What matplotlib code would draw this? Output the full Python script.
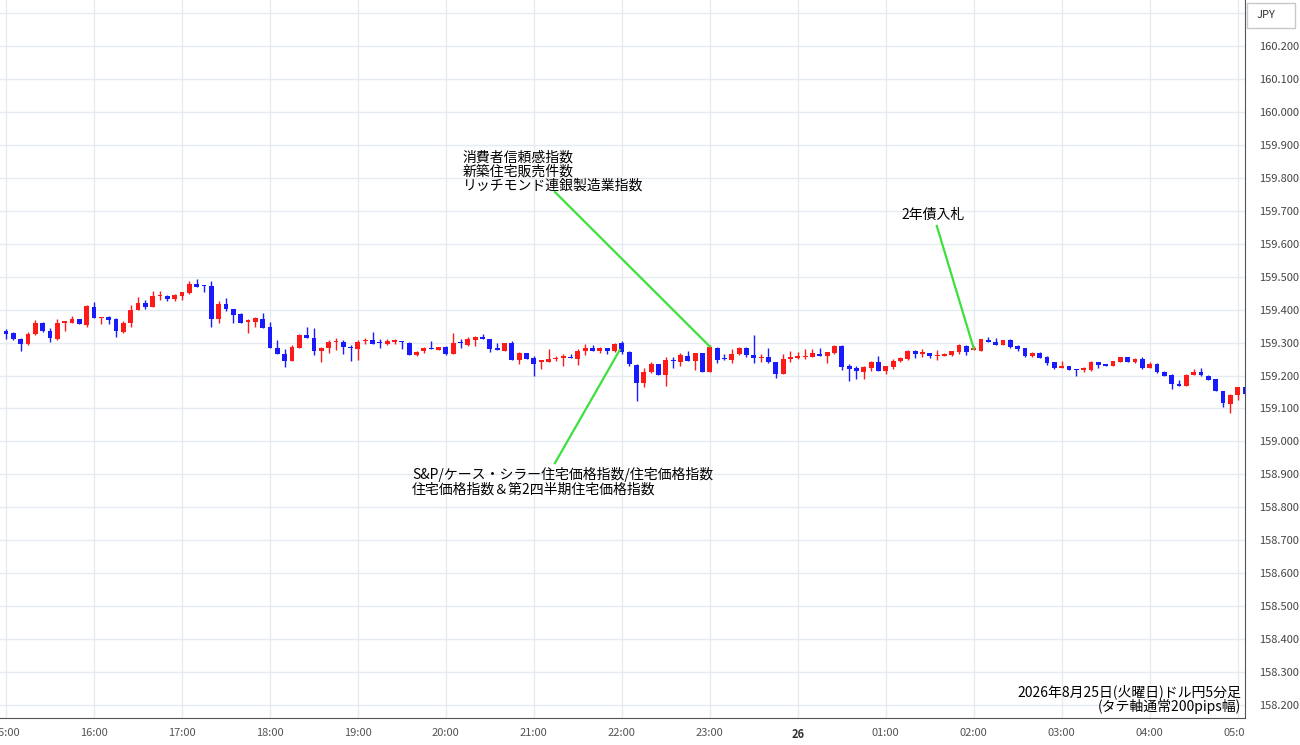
import numpy as np
import matplotlib
matplotlib.use('Agg')
import matplotlib.pyplot as plt
from matplotlib.patches import Rectangle
from matplotlib.transforms import Bbox, TransformedBbox

plt.rcParams['font.family'] = ['Noto Sans CJK JP', 'DejaVu Sans']

# ドル円 5分足 (15:00 から 05:05 まで)
opens = [159.335, 159.328, 159.310, 159.295, 159.325, 159.360, 159.335, 159.310, 159.360, 159.360,
         159.370, 159.352, 159.408, 159.374, 159.378, 159.370, 159.332, 159.360, 159.398, 159.420,
         159.408, 159.440, 159.440, 159.433, 159.442, 159.450, 159.478, 159.474, 159.472, 159.372,
         159.418, 159.403, 159.388, 159.362, 159.363, 159.373, 159.348, 159.285, 159.265, 159.245,
         159.285, 159.322, 159.315, 159.273, 159.283, 159.302, 159.303, 159.288, 159.280, 159.305,
         159.308, 159.300, 159.297, 159.303, 159.304, 159.300, 159.262, 159.273, 159.284, 159.278,
         159.287, 159.264, 159.300, 159.292, 159.307, 159.316, 159.312, 159.284, 159.275, 159.298,
         159.248, 159.267, 159.253, 159.242, 159.240, 159.250, 159.254, 159.257, 159.250, 159.273,
         159.283, 159.275, 159.283, 159.273, 159.298, 159.272, 159.233, 159.178, 159.210, 159.235,
         159.202, 159.248, 159.242, 159.260, 159.245, 159.267, 159.212, 159.285, 159.253, 159.247,
         159.265, 159.283, 159.263, 159.253, 159.255, 159.242, 159.205, 159.251, 159.252, 159.256,
         159.257, 159.266, 159.260, 159.267, 159.290, 159.228, 159.222, 159.212, 159.223, 159.240,
         159.213, 159.225, 159.243, 159.250, 159.273, 159.266, 159.267, 159.258, 159.258, 159.262,
         159.270, 159.290, 159.278, 159.275, 159.308, 159.302, 159.293, 159.308, 159.290, 159.282,
         159.260, 159.268, 159.255, 159.242, 159.222, 159.230, 159.220, 159.218, 159.217, 159.240,
         159.231, 159.228, 159.240, 159.255, 159.242, 159.250, 159.222, 159.235, 159.212, 159.203,
         159.175, 159.168, 159.202, 159.212, 159.198, 159.190, 159.153, 159.114, 159.140, 159.164]
highs = [159.340, 159.333, 159.313, 159.333, 159.367, 159.363, 159.345, 159.372, 159.363, 159.380,
         159.370, 159.415, 159.423, 159.378, 159.382, 159.375, 159.365, 159.415, 159.438, 159.430,
         159.455, 159.455, 159.445, 159.448, 159.452, 159.487, 159.492, 159.475, 159.488, 159.425,
         159.435, 159.403, 159.390, 159.370, 159.377, 159.390, 159.362, 159.308, 159.280, 159.292,
         159.325, 159.348, 159.345, 159.288, 159.307, 159.313, 159.308, 159.292, 159.308, 159.315,
         159.332, 159.310, 159.310, 159.310, 159.304, 159.302, 159.275, 159.287, 159.304, 159.288,
         159.290, 159.330, 159.310, 159.317, 159.320, 159.325, 159.312, 159.298, 159.300, 159.305,
         159.270, 159.268, 159.258, 159.245, 159.280, 159.258, 159.265, 159.265, 159.280, 159.295,
         159.293, 159.288, 159.285, 159.298, 159.305, 159.275, 159.235, 159.223, 159.240, 159.235,
         159.255, 159.255, 159.267, 159.275, 159.267, 159.267, 159.292, 159.288, 159.265, 159.280,
         159.288, 159.288, 159.322, 159.265, 159.283, 159.242, 159.265, 159.275, 159.272, 159.280,
         159.280, 159.285, 159.270, 159.292, 159.292, 159.235, 159.228, 159.228, 159.245, 159.260,
         159.230, 159.250, 159.255, 159.277, 159.277, 159.280, 159.267, 159.277, 159.268, 159.275,
         159.295, 159.292, 159.290, 159.312, 159.317, 159.315, 159.308, 159.312, 159.294, 159.282,
         159.270, 159.272, 159.258, 159.242, 159.245, 159.230, 159.220, 159.225, 159.243, 159.240,
         159.231, 159.245, 159.255, 159.255, 159.253, 159.255, 159.242, 159.237, 159.215, 159.205,
         159.185, 159.205, 159.220, 159.222, 159.201, 159.190, 159.153, 159.144, 159.166, 159.166]
lows = [159.312, 159.308, 159.275, 159.293, 159.323, 159.333, 159.303, 159.307, 159.335, 159.360,
        159.355, 159.348, 159.375, 159.355, 159.355, 159.318, 159.330, 159.347, 159.398, 159.402,
        159.408, 159.428, 159.425, 159.425, 159.428, 159.448, 159.470, 159.452, 159.348, 159.360,
        159.395, 159.360, 159.360, 159.330, 159.347, 159.345, 159.283, 159.265, 159.227, 159.243,
        159.282, 159.315, 159.262, 159.242, 159.267, 159.278, 159.265, 159.245, 159.248, 159.295,
        159.295, 159.282, 159.293, 159.295, 159.280, 159.262, 159.260, 159.268, 159.280, 159.277,
        159.262, 159.264, 159.283, 159.290, 159.290, 159.310, 159.272, 159.277, 159.273, 159.248,
        159.235, 159.250, 159.197, 159.220, 159.240, 159.243, 159.228, 159.252, 159.233, 159.262,
        159.275, 159.268, 159.265, 159.272, 159.265, 159.228, 159.122, 159.165, 159.208, 159.202,
        159.168, 159.222, 159.230, 159.245, 159.218, 159.212, 159.212, 159.237, 159.248, 159.238,
        159.263, 159.255, 159.238, 159.240, 159.238, 159.192, 159.205, 159.240, 159.250, 159.250,
        159.255, 159.258, 159.238, 159.265, 159.217, 159.183, 159.188, 159.190, 159.213, 159.213,
        159.205, 159.220, 159.242, 159.247, 159.252, 159.255, 159.252, 159.247, 159.258, 159.260,
        159.265, 159.262, 159.277, 159.275, 159.302, 159.293, 159.293, 159.285, 159.275, 159.255,
        159.255, 159.252, 159.232, 159.220, 159.222, 159.218, 159.198, 159.210, 159.215, 159.223,
        159.230, 159.228, 159.240, 159.242, 159.237, 159.220, 159.222, 159.208, 159.197, 159.158,
        159.168, 159.168, 159.202, 159.200, 159.187, 159.152, 159.104, 159.086, 159.126, 159.140]
closes = [159.325, 159.310, 159.295, 159.325, 159.360, 159.335, 159.315, 159.360, 159.363, 159.370,
          159.355, 159.410, 159.375, 159.378, 159.368, 159.335, 159.360, 159.400, 159.420, 159.408,
          159.440, 159.443, 159.433, 159.443, 159.452, 159.478, 159.470, 159.472, 159.372, 159.418,
          159.402, 159.385, 159.360, 159.367, 159.374, 159.345, 159.283, 159.265, 159.245, 159.288,
          159.322, 159.315, 159.273, 159.283, 159.303, 159.305, 159.288, 159.282, 159.303, 159.309,
          159.295, 159.298, 159.305, 159.305, 159.301, 159.262, 159.272, 159.283, 159.280, 159.287,
          159.264, 159.300, 159.298, 159.310, 159.317, 159.310, 159.280, 159.277, 159.298, 159.248,
          159.267, 159.250, 159.235, 159.244, 159.250, 159.253, 159.258, 159.252, 159.275, 159.283,
          159.275, 159.283, 159.275, 159.297, 159.270, 159.235, 159.177, 159.212, 159.235, 159.202,
          159.247, 159.244, 159.262, 159.245, 159.267, 159.212, 159.288, 159.248, 159.249, 159.265,
          159.283, 159.263, 159.253, 159.257, 159.240, 159.205, 159.250, 159.253, 159.258, 159.258,
          159.267, 159.260, 159.270, 159.290, 159.225, 159.220, 159.213, 159.227, 159.242, 159.213,
          159.228, 159.245, 159.252, 159.273, 159.265, 159.269, 159.260, 159.262, 159.266, 159.273,
          159.292, 159.270, 159.282, 159.310, 159.302, 159.293, 159.308, 159.288, 159.280, 159.260,
          159.268, 159.253, 159.237, 159.222, 159.230, 159.218, 159.217, 159.222, 159.240, 159.233,
          159.230, 159.245, 159.255, 159.242, 159.250, 159.222, 159.235, 159.210, 159.200, 159.175,
          159.168, 159.203, 159.212, 159.202, 159.187, 159.152, 159.116, 159.141, 159.164, 159.145]

hour_labels = ['15:00', '16:00', '17:00', '18:00', '19:00', '20:00', '21:00', '22:00', '23:00',
               '26', '01:00', '02:00', '03:00', '04:00', '05:00']
price_ticks = [158.2, 158.3, 158.4, 158.5, 158.6, 158.7, 158.8, 158.9, 159.0, 159.1, 159.2,
               159.3, 159.4, 159.5, 159.6, 159.7, 159.8, 159.9, 160.0, 160.1, 160.2, 160.3]
price_labels = ['158.200', '158.300', '158.400', '158.500', '158.600', '158.700', '158.800',
                '158.900', '159.000', '159.100', '159.200', '159.300', '159.400', '159.500',
                '159.600', '159.700', '159.800', '159.900', '160.000', '160.100', '160.200', '']

# 指標発表のメモ
event_texts = ['消費者信頼感指数\n新築住宅販売件数\nリッチモンド連銀製造業指数',
               'S&P/ケース・シラー住宅価格指数/住宅価格指数\n住宅価格指数＆第2四半期住宅価格指数',
               '2年債入札']

opens = np.array(opens)
highs = np.array(highs)
lows = np.array(lows)
closes = np.array(closes)
idx = np.arange(len(opens))

up_color = '#ff1a1a'
down_color = '#1a1aff'
colors = np.where(closes >= opens, up_color, down_color)

fig = plt.figure(figsize=(13, 7.45), dpi=100)
ax = fig.add_axes([0, 27 / 745, 1245 / 1300, 718 / 745])

# ローソク足
ax.vlines(idx, lows, highs, colors=colors, linewidth=1.0, zorder=3)
body_low = np.minimum(opens, closes)
body_h = np.maximum(np.abs(closes - opens), 0.004)
ax.bar(idx, body_h, bottom=body_low, width=0.66, color=colors, linewidth=0, zorder=4)

ax.set_xlim(-0.82, 169.0)
ax.set_ylim(158.1606, 160.3396)

ax.set_xticks(np.arange(0, 12 * len(hour_labels), 12))
ax.set_xticklabels(hour_labels)
ax.set_yticks(price_ticks)
ax.set_yticklabels(price_labels)
ax.yaxis.tick_right()
ax.tick_params(axis='x', length=0, pad=7, labelsize=8, labelcolor='#555555')
ax.tick_params(axis='y', length=0, pad=10, labelsize=8, labelcolor='#444444')
for lab in ax.get_xticklabels():
    if lab.get_text() == '26':
        lab.set_fontweight('bold')
        lab.set_color('#333333')
    lab.set_clip_box(TransformedBbox(Bbox([[0, -1], [1, 1]]), ax.transAxes))
    lab.set_clip_on(True)

ax.grid(True, color='#e6ebf1', linewidth=1.0, zorder=0)
ax.set_axisbelow(True)
for side in ['top', 'left']:
    ax.spines[side].set_visible(False)
ax.spines['right'].set_color('#555555')
ax.spines['bottom'].set_color('#555555')

# 指標の引き出し線
green = '#3de03d'
ax.plot([74.87, 96.0], [159.757, closes[96]], color=green, linewidth=1.6, zorder=5)
ax.plot([74.87, 83.7], [158.934, 159.277], color=green, linewidth=1.6, zorder=5)
ax.plot([126.96, 132.0], [159.654, closes[132]], color=green, linewidth=1.6, zorder=5)

ax.text(62.3, 159.884, event_texts[0], fontsize=10, va='top', ha='left', linespacing=1.0)
ax.text(55.4, 158.922, event_texts[1], fontsize=10, va='top', ha='left', linespacing=1.0)
ax.text(122.2, 159.687, event_texts[2], fontsize=10, va='center', ha='left')

ax.text(0.9968, 0.006, '2026年8月25日(火曜日)ドル円5分足\n(タテ軸通常200pips幅)',
        transform=ax.transAxes, fontsize=10, ha='right', va='bottom',
        multialignment='right', linespacing=1.0)

# 右上の通貨表示
fig.patches.append(Rectangle((1247 / 1300, 1 - 28 / 745), 48 / 1300, 25 / 745,
                             transform=fig.transFigure, facecolor='white',
                             edgecolor='#c8c8c8', linewidth=1.0, zorder=10))
fig.text(1266 / 1300, 1 - 15.5 / 745, 'JPY', fontsize=8, color='#333333',
         ha='center', va='center', zorder=11)

plt.savefig('out.png', dpi=100)
